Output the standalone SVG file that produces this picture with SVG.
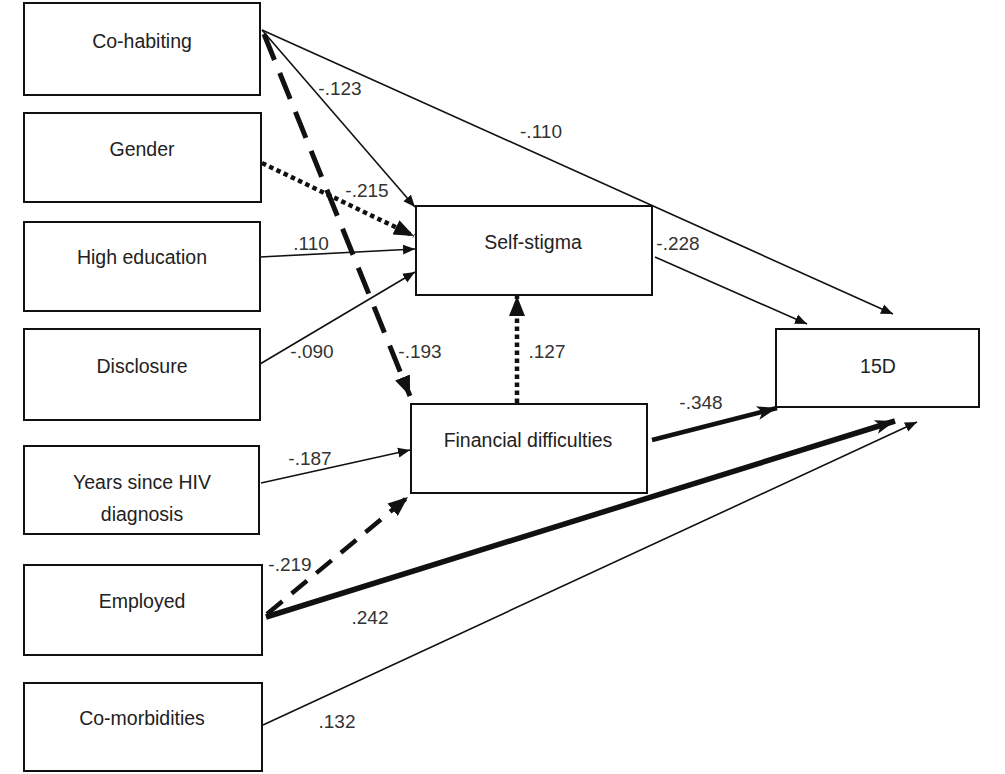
<svg xmlns="http://www.w3.org/2000/svg" width="1005" height="774" viewBox="0 0 1005 774">
<style>
.box{fill:#fff;stroke:#111;stroke-width:2}
.nt{font-family:"Liberation Sans",Arial,sans-serif;font-size:19.5px;fill:#222;text-anchor:middle;dominant-baseline:central}
.lb{font-family:"Liberation Sans",Arial,sans-serif;font-size:19px;fill:#333;text-anchor:middle;dominant-baseline:central}
.thin{fill:none;stroke:#111;stroke-width:1.6}
.dash{fill:none;stroke:#111;stroke-width:5;stroke-dasharray:28 14}
.dash2{fill:none;stroke:#111;stroke-width:4.5;stroke-dasharray:20 12}
.dot{fill:none;stroke:#111;stroke-width:4.5;stroke-dasharray:4.5 3.5}
.thick{fill:none;stroke:#111;stroke-width:4.5}
.thicker{fill:none;stroke:#111;stroke-width:5.5}
</style>
<defs>
<marker id="a" markerUnits="userSpaceOnUse" markerWidth="14" markerHeight="12" refX="12" refY="5" orient="auto" viewBox="0 0 14 10">
<path d="M0,0 L12,5 L0,10 Z" fill="#111"/>
</marker>
<marker id="ab" markerUnits="userSpaceOnUse" markerWidth="22" markerHeight="18" refX="20" refY="8" orient="auto" viewBox="0 0 22 16">
<path d="M0,0 L20,8 L0,16 Z" fill="#111"/>
</marker>
<marker id="ao" markerUnits="userSpaceOnUse" markerWidth="22" markerHeight="18" refX="20" refY="8" orient="auto" viewBox="0 0 22 16">
<path d="M0,1 L20,8 L0,15 L5,8 Z" fill="#111"/>
</marker>
</defs>

<g id="connectors">
<line class="thin" x1="262" y1="30" x2="893" y2="314" marker-end="url(#a)"/>
<line class="thin" x1="262" y1="30" x2="415" y2="207" marker-end="url(#a)"/>
<line class="dash" x1="264" y1="34" x2="410" y2="396" marker-end="url(#ab)"/>
<line class="dot" x1="262" y1="163" x2="414" y2="236" marker-end="url(#ab)"/>
<line class="thin" x1="260" y1="257" x2="415" y2="249" marker-end="url(#a)"/>
<line class="thin" x1="260" y1="364" x2="415" y2="272" marker-end="url(#a)"/>
<line class="dot" x1="517" y1="403" x2="517" y2="296" marker-end="url(#ab)"/>
<line class="thin" x1="655" y1="257" x2="807" y2="324" marker-end="url(#a)"/>
<line class="thick" x1="652" y1="440" x2="777" y2="408" marker-end="url(#ao)"/>
<line class="thin" x1="261" y1="483" x2="410" y2="450" marker-end="url(#a)"/>
<line class="dash2" x1="267" y1="614" x2="408" y2="497" marker-end="url(#ab)"/>
<line class="thicker" x1="266" y1="617" x2="895" y2="421" marker-end="url(#ao)"/>
<line class="thin" x1="263" y1="725" x2="917" y2="422" marker-end="url(#a)"/>
</g>

<g id="labels">
<text class="lb" x="340" y="88">-.123</text>
<text class="lb" x="541" y="131">-.110</text>
<text class="lb" x="367" y="190">-.215</text>
<text class="lb" x="311" y="243">.110</text>
<text class="lb" x="312" y="351">-.090</text>
<text class="lb" x="420" y="351">-.193</text>
<text class="lb" x="547" y="351">.127</text>
<text class="lb" x="678" y="243">-.228</text>
<text class="lb" x="701" y="402">-.348</text>
<text class="lb" x="310" y="458">-.187</text>
<text class="lb" x="290" y="564">-.219</text>
<text class="lb" x="370" y="617">.242</text>
<text class="lb" x="337" y="721">.132</text>
</g>

<g id="cohabiting"><rect class="box" x="24" y="3" width="236" height="92"/><text class="nt" x="142" y="41">Co-habiting</text></g>
<g id="gender"><rect class="box" x="24" y="113" width="237" height="89"/><text class="nt" x="142" y="149">Gender</text></g>
<g id="higheducation"><rect class="box" x="24" y="222" width="236" height="89"/><text class="nt" x="142" y="257">High education</text></g>
<g id="disclosure"><rect class="box" x="24" y="329" width="236" height="91"/><text class="nt" x="142" y="366">Disclosure</text></g>
<g id="years"><rect class="box" x="24" y="446" width="235" height="88"/><text class="nt" x="142" y="482">Years since HIV</text><text class="nt" x="142" y="514">diagnosis</text></g>
<g id="employed"><rect class="box" x="24" y="565" width="238" height="90"/><text class="nt" x="142" y="601">Employed</text></g>
<g id="comorbidities"><rect class="box" x="24" y="683" width="238" height="88"/><text class="nt" x="142" y="718">Co-morbidities</text></g>
<g id="selfstigma"><rect class="box" x="416" y="206" width="236" height="89"/><text class="nt" x="533" y="242">Self-stigma</text></g>
<g id="financial"><rect class="box" x="411" y="404" width="236" height="89"/><text class="nt" x="528" y="440">Financial difficulties</text></g>
<g id="fifteenD"><rect class="box" x="776" y="329" width="203" height="78"/><text class="nt" x="878" y="366">15D</text></g>
</svg>
